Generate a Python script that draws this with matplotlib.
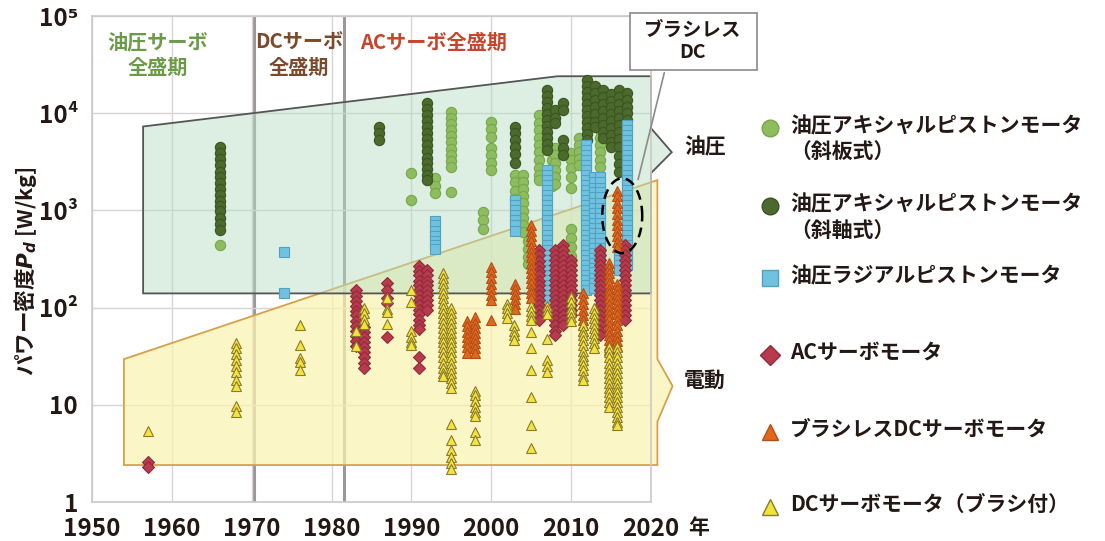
import numpy as np
import matplotlib.pyplot as plt
from matplotlib.colors import to_rgba
from matplotlib.patches import Polygon, Rectangle
from matplotlib.lines import Line2D

plt.rcParams['font.family'] = ['Noto Sans CJK JP', 'DejaVu Sans']
plt.rcParams['font.weight'] = 'bold'

# --- data: each series is a list of years and, per year, the stacked values [W/kg]
swash_years = [1966, 1990, 1993, 1995, 1999, 2000, 2003, 2004, 2004.6, 2006,
               2007.6, 2008, 2010, 2011, 2013.6]
swash_vals = [
    [440],
    [2400, 1270],
    [2150, 1800, 1500],
    [10400, 9000, 7800, 6700, 5800, 5000, 4300, 3700, 3200, 2800, 1550],
    [960, 800, 650],
    [8100, 6800, 5700, 4400, 3700, 3100, 2600],
    [2300, 1950, 1600, 1300],
    [2300, 1950, 1650, 1400, 1180, 990, 830, 700, 600],
    [480, 400, 330, 280],
    [9500, 8000, 6700, 5600, 4700, 3950, 3300, 2750, 2300, 2050],
    [3300, 2700, 2200, 1800],
    [4400, 3700, 3100, 2600, 2200, 1850],
    [3900, 3300, 2700, 2200, 1700, 650, 520, 420, 340, 290],
    [5600, 4700, 4000, 3400, 2900],
    [6700, 5600, 4700, 4000, 3300, 2800],
]

bent_years = [1966, 1986, 1992, 2003, 2007, 2008, 2009, 2012, 2013, 2014, 2015, 2016, 2017]
bent_vals = [
    [4450, 3870, 3400, 2920, 2500, 2200, 1900, 1650, 1430, 1250, 1100, 975, 840, 730, 630],
    [7200, 6200, 5300],
    [12700, 11000, 9500, 8300, 7200, 6200, 5400, 4700, 4100, 3500, 3100, 2650, 2300, 2050],
    [7200, 6200, 5300, 4500, 3800, 3100],
    [17300, 14900, 13000, 11300, 9800, 8500, 7350, 6400, 5500, 4800, 4200],
    [10700, 9000, 8000],
    [12700, 10800, 5300, 4400, 3700],
    [21900, 19000, 16500, 14300, 12400, 10800, 9300, 8100, 7000, 6100, 5300],
    [19000, 16000, 13600, 11500, 9700, 8200, 7200],
    [17300, 14700, 12400, 10500, 9000, 7600, 6400, 5600],
    [15900, 13500, 11500, 9700, 8300, 7000, 6000, 5100, 4500],
    [17300, 14700, 12400, 10500, 9000, 7600, 6400, 5400, 4500, 3600, 3000, 2500],
    [16200, 13800, 11700, 10000, 8500],
]

radial_years = [1974, 1993, 2003, 2007, 2011.9, 2012.8, 2013.6, 2016, 2017]
radial_vals = [
    [372, 141],
    [780, 700, 620, 550, 490, 440, 400],
    [1270, 1130, 1000, 900, 790, 700, 620],
    [2590, 2300, 2050, 1820, 1610, 1430, 1270, 1130, 1000, 893, 793, 705, 626, 556,
     494, 438, 390, 346, 307, 273, 243, 216, 191, 170, 151, 134, 119],
    [4690, 4160, 3700, 3280, 2920, 2590, 2300, 2050, 1820, 1610, 1430, 1270, 1130,
     1000, 893, 793, 705, 626, 556, 494, 438, 390, 346, 307, 273, 243, 216, 191, 170, 151],
    [2200, 1950, 1720, 1530, 1360, 1200, 1070, 950, 840, 750, 665, 590, 525, 465,
     415, 368, 327, 290, 258, 230, 204, 181, 160],
    [2200, 1950, 1720, 1530, 1360, 1200, 1070, 950, 840, 750, 665, 590, 525, 465,
     415, 368, 327, 290],
    [390, 346, 307, 273, 243],
    [7530, 6690, 5940, 5280, 4690, 4160, 3700, 3280, 2920, 2590, 2300, 2050, 1820,
     1610, 1430, 1270, 1130, 1000, 893, 793, 705, 626, 556, 494, 438, 390, 346, 307, 273],
]

ac_years = [1957, 1983, 1984, 1987, 1991, 1992, 2006, 2008, 2009, 2010, 2013.6, 2016.8]
ac_vals = [
    [2.6, 2.3],
    [150, 133, 118, 105, 93, 83, 73, 65, 58, 51, 45, 40],
    [63, 56, 50, 44, 39, 35, 31, 27, 24],
    [180, 150, 125, 112, 50],
    [270, 240, 215, 190, 170, 150, 135, 120, 107, 95, 85, 75, 67, 60, 31, 24],
    [245, 215, 190, 170, 150, 135, 120, 107, 95],
    [390, 345, 305, 270, 240, 215, 190, 170, 150, 135, 120, 106, 94, 84, 75],
    [390, 346, 307, 273, 243, 216, 191, 170, 151, 134, 119, 106, 94, 84, 74, 66, 58, 52],
    [438, 390, 346, 307, 273, 243, 216, 191, 170, 151, 134, 119, 106, 94, 83, 74, 66],
    [307, 273, 243, 216, 191, 170, 151, 134, 119, 106, 94, 83],
    [390, 346, 307, 273, 243, 216, 191, 170, 151, 134, 119, 106, 94, 84, 74, 66, 58, 52],
    [438, 390, 346, 307, 273, 243, 216, 191, 170, 151, 134, 119, 106, 94, 83, 74],
]

bldc_years = [1997, 1998, 2000, 2003, 2005, 2011.5, 2014.7, 2015.8]
bldc_vals = [
    [72, 64, 56, 50, 44, 39, 34],
    [80, 70, 62, 55, 49, 43, 38, 34],
    [260, 230, 200, 175, 155, 135, 120, 74],
    [175, 155, 138, 122, 108, 96],
    [700, 610, 540, 480, 420, 370, 330, 290, 255, 225, 200, 178, 157, 140, 125],
    [140, 122, 108, 95, 84, 74, 66, 58],
    [290, 255, 225, 200, 178, 157, 140, 125, 110, 97, 86, 76, 67, 59, 52, 46, 41, 37],
    [1600, 1400, 1200, 1050, 920, 800, 700, 610, 540, 470, 420,
     175, 155, 138, 122, 108, 96, 85, 75, 66, 58, 51, 45, 40],
]

dc_years = [1957, 1968, 1976, 1983, 1984, 1987, 1990, 1994, 1995, 1998, 2002, 2002.8,
            2005, 2007, 2010, 2011.5, 2012.8, 2014.7, 2015.8]
dc_vals = [
    [5.4],
    [43.6, 38, 33, 29, 25, 22, 18, 15.5, 9.8, 8.4],
    [66, 41, 30, 27.5, 23],
    [57, 40],
    [98, 87, 77, 68],
    [127, 96, 90, 68],
    [151, 113, 57, 50, 44, 41],
    [226, 203, 180, 160, 142, 126, 112, 100, 89, 79, 70, 62, 55, 49, 44, 39, 34.6,
     30.7, 27, 24, 21.4, 19.6],
    [100, 89, 79, 70, 62, 55, 49, 44, 39, 34.6, 30.7, 27, 24, 21.4, 19, 16.9, 15,
     6.4, 4.3, 3.4, 2.9, 2.5, 2.2],
    [14, 12.5, 11, 9.6, 8.5, 7.6, 5.3, 4.3],
    [110, 98, 87, 78],
    [66, 58, 52, 46],
    [103, 92, 82, 74, 56, 38, 22.7, 12, 6.2, 3.6],
    [105, 94, 85, 48, 29, 25, 22],
    [128, 113, 100, 90, 80, 72],
    [66, 58, 52, 46, 41, 36, 32, 29, 25.5, 22.7, 20, 18],
    [100, 89, 79, 70, 62, 55, 49, 43, 38],
    [39, 35, 31, 27, 24, 21.4, 19, 16.9, 15, 13.4, 11.9, 10.6, 9.4],
    [39, 35, 31, 27, 24, 21.4, 19, 16.9, 15, 13.4, 11.9, 10.6, 9.4, 8.4, 7.5, 6.7, 6.2],
]

# application regions (year, W/kg) incl. the bracket notch on the right side
hyd_region_x = [1956.4, 2008.3, 2020.0, 2020.0, 2022.6, 2020.0, 2020.0, 1956.4]
hyd_region_y = [7300, 24000, 24000, 7000, 3970, 2420, 140, 140]
ele_region_x = [1954.0, 1954.0, 2020.8, 2020.8, 2022.7, 2020.8, 2020.8]
ele_region_y = [2.4, 29.5, 2050, 29.6, 15.6, 6.7, 2.4]

era_bounds = [1970.3, 1981.6]
x_ticks = [1950, 1960, 1970, 1980, 1990, 2000, 2010, 2020]
y_ticks = [1, 10, 100, 1000, 10000, 100000]
y_ticklabels = ['1', '10', '10²', '10³', '10⁴', '10⁵']

series = [
    ('油圧アキシャルピストンモータ\n（斜板式）', swash_years, swash_vals, 'o', '#8dbd5e', '#77a64c', 7.4),
    ('油圧アキシャルピストンモータ\n（斜軸式）', bent_years, bent_vals, 'o', '#4b6a2c', '#3b5522', 7.4),
    ('油圧ラジアルピストンモータ', radial_years, radial_vals, 's', '#70c2de', '#4ea3c4', 6.8),
    ('ACサーボモータ', ac_years, ac_vals, 'D', '#b83a4d', '#8f2b3a', 6.4),
    ('ブラシレスDCサーボモータ', bldc_years, bldc_vals, '^', '#e2671e', '#b34e14', 7.2),
    ('DCサーボモータ（ブラシ付）', dc_years, dc_vals, '^', '#f3e33e', '#8a7a2c', 7.2),
]

INK = '#231815'
W, H = 1105, 541
fig = plt.figure(figsize=(W / 100, H / 100), dpi=100)
ax = fig.add_axes([92 / W, 39 / H, 559 / W, 486 / H])
ax.set_yscale('log')
ax.set_xlim(1950, 2020)
ax.set_ylim(1, 1e5)

# grid and frame
ax.set_xticks(x_ticks)
ax.set_yticks(y_ticks)
ax.yaxis.set_minor_locator(plt.NullLocator())
ax.grid(True, color='#d9d3d3', lw=1.0, zorder=0)
for s in ax.spines.values():
    s.set_color('#cfc8c8')
    s.set_linewidth(1.2)
ax.tick_params(length=0, labelsize=17.5, colors=INK)
ax.tick_params(axis='x', pad=11)
ax.tick_params(axis='y', pad=10)
ax.set_yticklabels(y_ticklabels)
for lab in ax.get_xticklabels() + ax.get_yticklabels():
    lab.set_fontweight('bold')

for xb in era_bounds:
    ax.axvline(xb, color='#9c9898', lw=2.2, zorder=1)

# regions
ax.add_patch(Polygon(list(zip(ele_region_x, ele_region_y)), closed=True,
                     facecolor=to_rgba('#faf3b0', 0.72), edgecolor='#d7a049',
                     lw=1.3, zorder=2, clip_on=False))
ax.add_patch(Polygon(list(zip(hyd_region_x, hyd_region_y)), closed=True,
                     facecolor=to_rgba('#b6dec4', 0.48), edgecolor='#555555',
                     lw=1.3, zorder=2, clip_on=False))

# data columns
for label, years, vals, mk, fc, ec, ms in series:
    xs = [yr for yr, v in zip(years, vals) for _ in v]
    ys = [val for v in vals for val in v]
    ax.plot(xs, ys, ls='none', marker=mk, ms=ms, mfc=fc, mec=ec, mew=0.8, zorder=3)

# dashed ring around the brushless DC cluster
t = np.linspace(0, 2 * np.pi, 200)
ax.plot(2016.4 + 2.5 * np.cos(t), 10 ** (2.945 + 0.385 * np.sin(t)),
        color='black', ls=(0, (4, 2.5)), lw=1.8, zorder=5)

# callout box
ax.add_patch(Rectangle((0.962, 0.889), 0.227, 0.117, transform=ax.transAxes,
                       facecolor='white', edgecolor='#8a8a8a', lw=1.2,
                       clip_on=False, zorder=6))
ax.text(1.075, 0.947, 'ブラシレス\nDC', transform=ax.transAxes, ha='center',
        va='center', fontsize=14, fontweight='bold', color=INK,
        linespacing=1.2, zorder=7)
ax.annotate('', xy=(2018.3, 1950), xycoords='data', xytext=(1.025, 0.889),
            textcoords='axes fraction',
            arrowprops=dict(arrowstyle='-', color='#8a8a8a', lw=1.2), zorder=6)

# era captions
ax.text(1958.2, 40000, '油圧サーボ\n全盛期', ha='center', va='center', fontsize=14.5,
        fontweight='bold', color='#6b9a48', linespacing=1.25, zorder=4)
ax.text(1975.9, 40000, 'DCサーボ\n全盛期', ha='center', va='center', fontsize=14.5,
        fontweight='bold', color='#7b4a2b', linespacing=1.25, zorder=4)
ax.text(1983.6, 54000, 'ACサーボ全盛期', ha='left', va='center', fontsize=14.5,
        fontweight='bold', color='#c8452c', zorder=4)

ax.set_ylabel('パワー密度$P_d$ [W/kg]', fontsize=15.5, fontweight='bold', color=INK)
ax.yaxis.set_label_coords(-0.095, 0.475)

# right-hand labels
fig.text(684 / W, 1 - 147 / H, '油圧', fontsize=15, fontweight='bold', va='center', color=INK)
fig.text(684 / W, 1 - 380 / H, '電動', fontsize=15, fontweight='bold', va='center', color=INK)
fig.text(688 / W, 1 - 527 / H, '年', fontsize=15, fontweight='bold', va='center', color=INK)

# legend
leg_rows = [128, 206, 278, 355, 432, 507]
for (label, _, _, mk, fc, ec, _), yy in zip(series, leg_rows):
    yf = 1 - yy / H
    fig.add_artist(Line2D([770 / W], [yf], marker=mk, ms=12 if mk != 'D' else 10,
                          mfc=fc, mec=ec, mew=1.0, ls='none', transform=fig.transFigure))
    fig.text(790 / W, yf + 13 / H, label, fontsize=15, fontweight='bold', va='top',
             color=INK, linespacing=1.35)

fig.savefig('out.png', dpi=100)
